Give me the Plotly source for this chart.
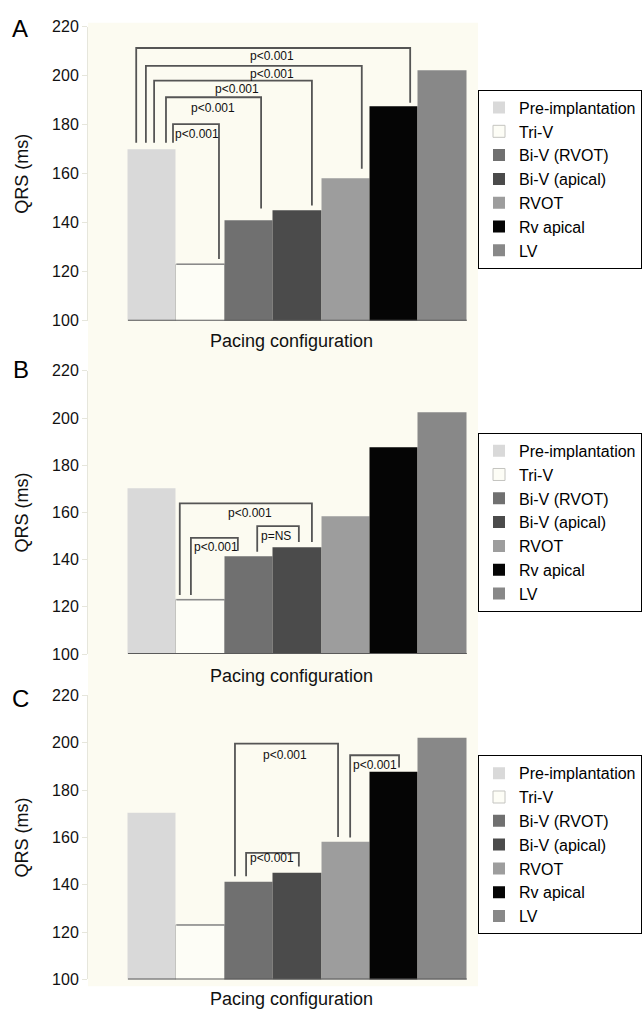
import plotly.graph_objects as go

# ---------------- data ----------------
categories = ["Pre-implantation", "Tri-V", "Bi-V (RVOT)", "Bi-V (apical)", "RVOT", "Rv apical", "LV"]
qrs_ms = [170, 123, 141, 145, 158, 187.5, 202]
y_ticks = [100, 120, 140, 160, 180, 200, 220]
panel_letters = ["A", "B", "C"]
x_title = "Pacing configuration"
y_title = "QRS (ms)"

# comparisons (bar i, bar j, label) per panel
comparisons_A = [(0, 1, "p<0.001"), (0, 2, "p<0.001"), (0, 3, "p<0.001"), (0, 4, "p<0.001"), (0, 5, "p<0.001")]
comparisons_B = [(1, 2, "p<0.001"), (2, 3, "p=NS"), (1, 3, "p<0.001")]
comparisons_C = [(2, 3, "p<0.001"), (2, 4, "p<0.001"), (4, 5, "p<0.001")]

# ---------------- style / geometry ----------------
bar_colors = ["#d9d9d9", "#fdfdf6", "#707070", "#4b4b4b", "#9d9d9d", "#050505", "#888888"]
bar_line_colors = ["rgba(0,0,0,0)", "#c4c4c0", "rgba(0,0,0,0)", "rgba(0,0,0,0)",
                   "rgba(0,0,0,0)", "rgba(0,0,0,0)", "rgba(0,0,0,0)"]
# bracket geometry: (left x offset from bar i, right x offset from bar j, top, left bottom, right bottom, label x, label y)
geom_A = [(0.43, 0.38, 180.2, 172.6, 125.2, 0.92, 176.2),
          (0.285, 0.25, 191.2, 172.6, 145.8, 1.26, 187.0),
          (0.04, 0.30, 198.0, 172.6, 147.0, 1.75, 194.7),
          (-0.13, 0.33, 204.0, 172.6, 162.0, 2.48, 200.7),
          (-0.33, 0.33, 211.3, 172.6, 189.0, 2.48, 208.0)]
geom_B = [(-0.20, -0.23, 149.2, 125.0, 143.8, 1.32, 145.4),
          (0.17, 0.03, 154.2, 143.3, 147.5, 2.56, 150.0),
          (-0.43, 0.30, 163.8, 125.0, 147.5, 2.02, 159.6)]
geom_C = [(-0.06, 0.03, 153.5, 143.6, 147.7, 2.48, 151.5),
          (-0.29, -0.16, 199.6, 143.6, 160.2, 2.74, 195.0),
          (0.09, 0.10, 194.7, 160.0, 189.5, 4.60, 190.5)]

W, H = 644, 1017
FONT = "Liberation Sans, Arial, Helvetica, sans-serif"
PLOT_X0, PLOT_X1 = 88, 478
panels_px = [(19, 318), (369, 657), (699, 988)]     # pixel rows of 220 and 100
xtitle_px = [339, 679, 1008]
letter_px = [(20, 21), (21, 368), (20, 702)]
legend_top_px = [83, 432, 760]
x_range = [-1.326, 6.731]

comparisons = [comparisons_A, comparisons_B, comparisons_C]
geoms = [geom_A, geom_B, geom_C]

fig = go.Figure()
shapes = []
annotations = []

# cream backdrop
shapes.append(dict(type="rect", xref="paper", yref="paper",
                   x0=PLOT_X0 / W, x1=PLOT_X1 / W, y0=1 - 995 / H, y1=1 - 15 / H,
                   fillcolor="#fcfbf1", line=dict(width=0), layer="below"))

line_col = "#555555"

for p in range(3):
    xa = "x" if p == 0 else f"x{p + 1}"
    ya = "y" if p == 0 else f"y{p + 1}"
    lg = "legend" if p == 0 else f"legend{p + 1}"
    for i, (cat, val, col, lc) in enumerate(zip(categories, qrs_ms, bar_colors, bar_line_colors)):
        fig.add_trace(go.Bar(
            x=[i], y=[val], width=1, name=cat,
            marker=dict(color=col, line=dict(width=1, color=lc)),
            xaxis=xa, yaxis=ya, legend=lg, showlegend=True,
        ))
    top_px, bot_px = panels_px[p]
    fig.layout[("xaxis" if p == 0 else f"xaxis{p + 1}")] = dict(
        domain=[PLOT_X0 / W, PLOT_X1 / W], range=x_range, showticklabels=False,
        showgrid=False, zeroline=False, showline=False, anchor=ya, fixedrange=True)
    fig.layout[("yaxis" if p == 0 else f"yaxis{p + 1}")] = dict(
        domain=[1 - bot_px / H, 1 - top_px / H], range=[100, 220], tickvals=y_ticks,
        ticks="outside", ticklen=5, tickcolor="#e6e6dc", showline=True, linecolor="#e6e6dc",
        showgrid=False, zeroline=False, anchor=xa,
        tickfont=dict(family=FONT, size=16, color="#111"))

    # baseline under bars
    shapes.append(dict(type="line", xref=xa, yref=ya, x0=-0.5, x1=len(categories) - 0.5,
                       y0=100, y1=100, line=dict(color="#5a5a5a", width=2)))
    # Tri-V top edge
    shapes.append(dict(type="line", xref=xa, yref=ya, x0=0.5, x1=1.5,
                       y0=qrs_ms[1], y1=qrs_ms[1], line=dict(color="#8a8a8a", width=1.5)))

    # brackets
    for (i, j, lab), (dl, dr, top, lb, rb, lx, ly) in zip(comparisons[p], geoms[p]):
        xl = i + dl
        xr = j + dr
        shapes.append(dict(type="path", xref=xa, yref=ya,
                           path=f"M {xl},{lb} L {xl},{top} L {xr},{top} L {xr},{rb}",
                           line=dict(color=line_col, width=1.8)))
        annotations.append(dict(xref=xa, yref=ya, x=lx, y=ly, text=lab, showarrow=False,
                                xanchor="center", yanchor="middle",
                                font=dict(family=FONT, size=12, color="#111")))

    # axis titles and panel letters
    annotations.append(dict(xref="paper", yref="paper", x=291 / W, y=1 - xtitle_px[p] / H,
                            text=x_title, showarrow=False, xanchor="center", yanchor="middle",
                            font=dict(family=FONT, size=18, color="#111")))
    annotations.append(dict(xref="paper", yref="paper", x=22 / W, y=1 - (top_px + bot_px) / 2 / H,
                            text=y_title, textangle=-90, showarrow=False,
                            xanchor="center", yanchor="middle",
                            font=dict(family=FONT, size=18, color="#111")))
    lx_, ly_ = letter_px[p]
    annotations.append(dict(xref="paper", yref="paper", x=lx_ / W, y=1 - ly_ / H,
                            text=panel_letters[p], showarrow=False,
                            xanchor="center", yanchor="middle",
                            font=dict(family=FONT, size=24, color="#000")))

    fig.layout[lg] = dict(x=478 / W, xanchor="left", y=1 - legend_top_px[p] / H, yanchor="top",
                          bgcolor="#ffffff", bordercolor="#000", borderwidth=1,
                          font=dict(family=FONT, size=16, color="#000"),
                          tracegroupgap=0, itemclick=False, itemdoubleclick=False)

fig.update_layout(
    width=W, height=H, margin=dict(l=0, r=0, t=0, b=0),
    paper_bgcolor="#ffffff", plot_bgcolor="rgba(0,0,0,0)",
    barmode="overlay", bargap=0, shapes=shapes, annotations=annotations,
    font=dict(family=FONT),
)

fig.write_html("out.html")
